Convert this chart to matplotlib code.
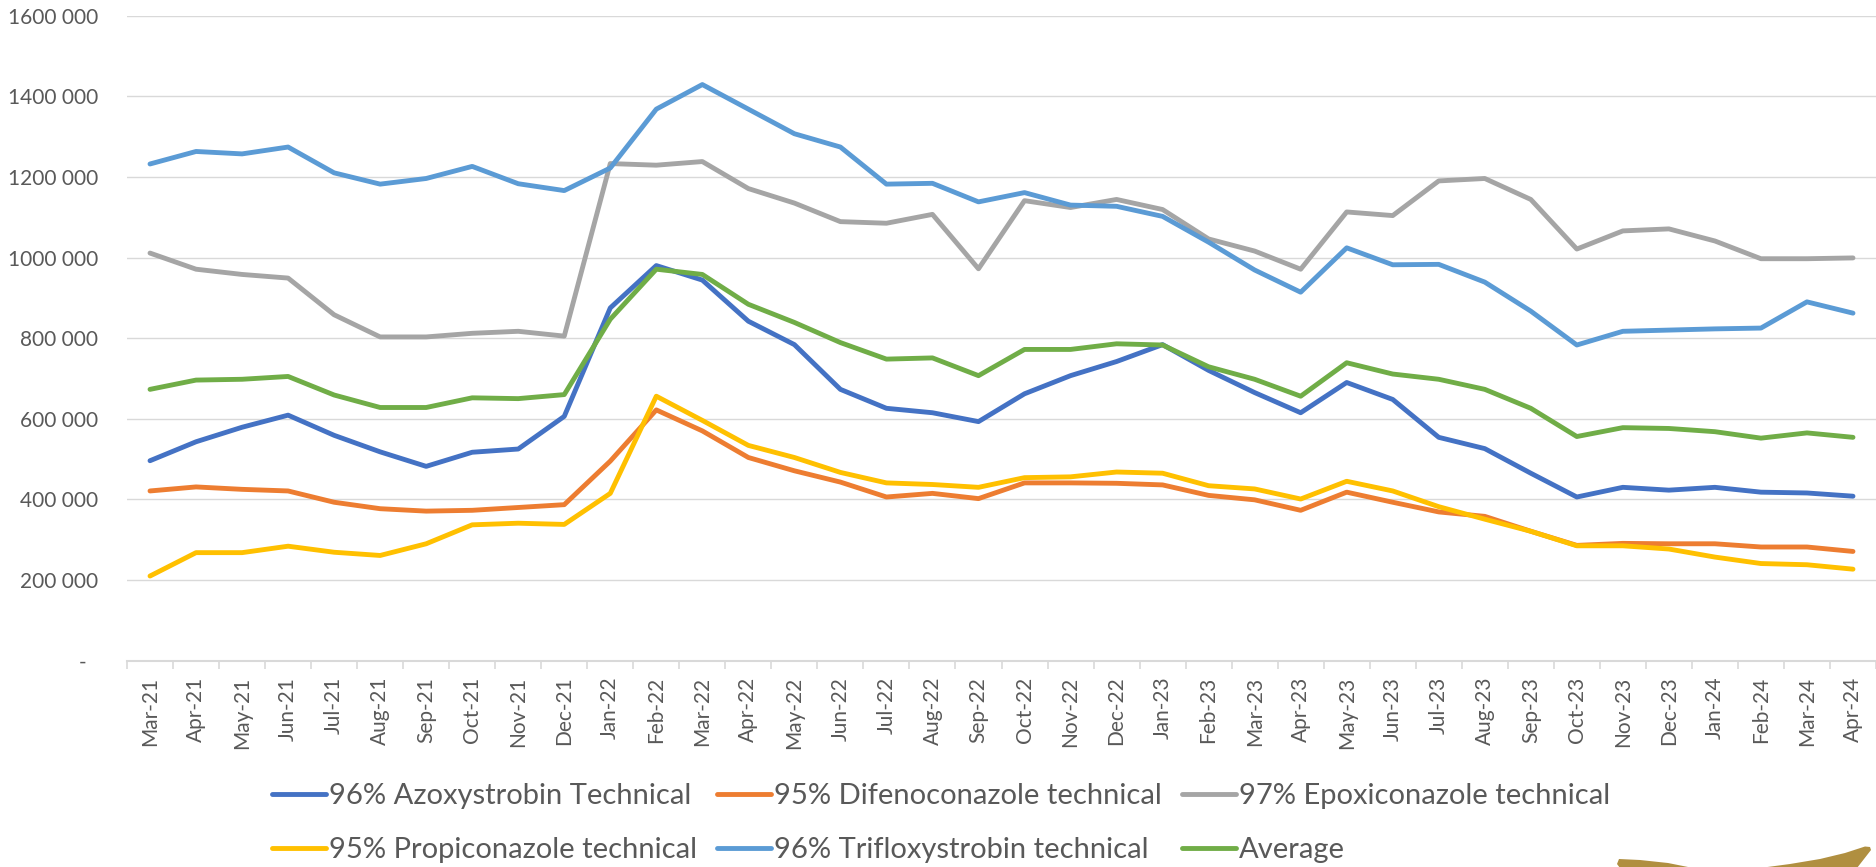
import matplotlib
matplotlib.use("Agg")
import matplotlib.pyplot as plt
from matplotlib.ticker import FuncFormatter, FixedLocator
from matplotlib.patches import Polygon

# data
months = ["Mar-21", "Apr-21", "May-21", "Jun-21", "Jul-21", "Aug-21", "Sep-21", "Oct-21",
          "Nov-21", "Dec-21", "Jan-22", "Feb-22", "Mar-22", "Apr-22", "May-22", "Jun-22",
          "Jul-22", "Aug-22", "Sep-22", "Oct-22", "Nov-22", "Dec-22", "Jan-23", "Feb-23",
          "Mar-23", "Apr-23", "May-23", "Jun-23", "Jul-23", "Aug-23", "Sep-23", "Oct-23",
          "Nov-23", "Dec-23", "Jan-24", "Feb-24", "Mar-24", "Apr-24"]

azoxystrobin = [496, 543, 579, 609, 559, 518, 482, 517, 525, 606, 875, 980, 944, 842, 784, 673,
                626, 615, 593, 662, 707, 742, 784, 720, 665, 615, 690, 648, 554, 526, 465, 406,
                430, 423, 430, 418, 416, 408]
difenoconazole = [421, 431, 425, 421, 393, 377, 371, 373, 380, 387, 495, 622, 570, 504, 471, 443,
                  406, 415, 402, 441, 441, 440, 436, 410, 399, 373, 418, 393, 369, 358, 321, 286,
                  291, 290, 290, 282, 282, 271]
epoxiconazole = [1011, 971, 958, 949, 858, 803, 803, 812, 817, 805, 1233, 1229, 1238, 1171, 1135,
                 1089, 1085, 1107, 972, 1141, 1124, 1144, 1119, 1046, 1016, 971, 1113, 1104, 1190,
                 1196, 1144, 1021, 1066, 1071, 1041, 997, 997, 999]
propiconazole = [210, 268, 268, 284, 269, 261, 290, 337, 341, 338, 415, 656, 596, 534, 504, 467,
                 441, 437, 430, 454, 456, 468, 465, 434, 426, 401, 445, 421, 382, 351, 321, 285,
                 285, 277, 257, 241, 238, 227]
trifloxystrobin = [1232, 1263, 1257, 1274, 1210, 1182, 1196, 1226, 1183, 1166, 1222, 1368, 1429,
                   1368, 1307, 1274, 1182, 1184, 1138, 1161, 1130, 1127, 1102, 1038, 969, 914,
                   1024, 982, 983, 939, 867, 783, 817, 820, 823, 825, 890, 862]
average = [673, 696, 698, 705, 659, 628, 628, 652, 650, 660, 847, 971, 958, 884, 839, 789, 748,
           751, 707, 772, 772, 786, 783, 729, 698, 656, 739, 711, 698, 673, 626, 556, 578, 576,
           568, 552, 565, 554]

series = [
    ("96% Azoxystrobin Technical", azoxystrobin, "#4472C4"),
    ("95% Difenoconazole technical", difenoconazole, "#ED7D31"),
    ("97% Epoxiconazole technical", epoxiconazole, "#A5A5A5"),
    ("95% Propiconazole technical", propiconazole, "#FFC000"),
    ("96% Trifloxystrobin technical", trifloxystrobin, "#5B9BD5"),
    ("Average", average, "#70AD47"),
]

plt.rcParams["font.family"] = ["Lato", "DejaVu Sans"]
txt = "#595959"
grid = "#D9D9D9"

fig = plt.figure(figsize=(18.76, 8.67), dpi=100)
ax = fig.add_axes([127 / 1876, 1 - 660.7 / 867, 1 - 127 / 1876, (660.7 - 15.6) / 867])

x = list(range(len(months)))
lines = []
for name, vals, col in series:
    ln, = ax.plot(x, [v * 1000 for v in vals], color=col, lw=3.5, label=name,
                  solid_joinstyle="round", solid_capstyle="round")
    lines.append(ln)

ax.set_xlim(-0.5, len(months) - 0.5)
ax.set_ylim(0, 1600000)
ax.set_yticks(range(0, 1600001, 200000))


def yfmt(v, pos):
    v = int(round(v))
    if v == 0:
        return "-  "
    return f"{v // 1000} {v % 1000:03d}"


ax.yaxis.set_major_formatter(FuncFormatter(yfmt))
ax.grid(axis="y", color=grid, lw=1.0)
ax.set_axisbelow(True)
ax.tick_params(axis="y", length=0, pad=21, labelsize=15, labelcolor=txt)

ax.set_xticks(x)
ax.set_xticklabels(months, rotation=90)
ax.xaxis.set_minor_locator(FixedLocator([i - 0.5 for i in range(len(months) + 1)]))
ax.tick_params(axis="x", which="major", length=0, pad=11.5, labelsize=15, labelcolor=txt)
ax.tick_params(axis="x", which="minor", length=6, width=1.2, color=grid)

for s in ["top", "right", "left"]:
    ax.spines[s].set_visible(False)
ax.spines["bottom"].set_color(grid)
ax.spines["bottom"].set_linewidth(1.5)

# legend fills column by column, so reorder to read row by row like the original
order = [0, 3, 1, 4, 2, 5]
leg = fig.legend([lines[i] for i in order], [series[i][0] for i in order],
                 loc="center", bbox_to_anchor=(0.5016, 1 - 823 / 867), ncol=3, frameon=False,
                 fontsize=21, handlelength=1.85, handletextpad=0.1, columnspacing=0.7,
                 labelspacing=0.98)
for t in leg.get_texts():
    t.set_color(txt)

# golden swoosh in the bottom right corner
pts = [(1617, 864), (1619, 859), (1640, 860), (1668, 863), (1693, 868), (1760, 868),
       (1790, 864), (1820, 859), (1845, 853), (1865, 846.5), (1870, 847), (1871, 850),
       (1857, 868), (1620, 868)]
fig.patches.append(Polygon([(px / 1876, 1 - py / 867) for px, py in pts], closed=True,
                           transform=fig.transFigure, facecolor="#B08F40", edgecolor="none"))

fig.savefig("out.png", dpi=100)
